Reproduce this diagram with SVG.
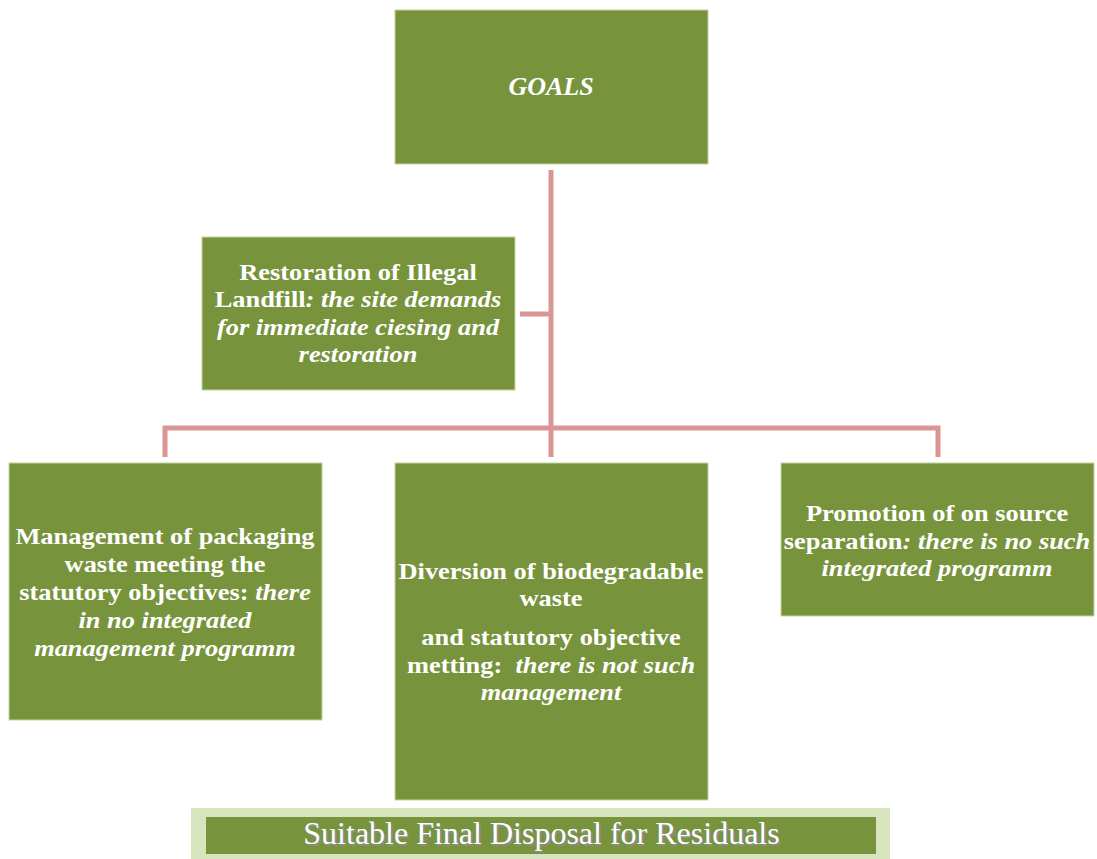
<svg xmlns="http://www.w3.org/2000/svg" width="1097" height="859" viewBox="0 0 1097 859">
<style>
.box{fill:#77933c;stroke:#c3d69b;stroke-width:1}
.t{font-family:"Liberation Serif","Times New Roman",serif;font-size:24px;font-weight:bold;fill:#ffffff;text-anchor:middle}
.i{font-style:italic}
.conn{stroke:#d99694;stroke-width:5;fill:none}
.ban{font-family:"Liberation Serif","Times New Roman",serif;font-size:32px;text-anchor:middle}
</style>
<rect width="1097" height="859" fill="#ffffff"/>
<g id="connectors">
<line class="conn" x1="551" y1="170" x2="551" y2="457"/>
<line class="conn" x1="520" y1="314" x2="551" y2="314"/>
<polyline class="conn" points="165,457 165,428 938,428 938,457"/>
</g>
<g id="goals">
<rect class="box" x="395" y="10" width="313" height="154"/>
<text class="t i" x="551" y="95" style="font-size:26px">GOALS</text>
</g>
<g id="restoration">
<rect class="box" x="202" y="237" width="313" height="153"/>
<g transform="translate(358 0) scale(1.1 1)">
<text class="t" x="0" y="280">Restoration of Illegal</text>
<text class="t" x="0" y="307">Landfill<tspan class="i">: the site demands</tspan></text>
<text class="t i" x="0" y="335">for immediate ciesing and</text>
<text class="t i" x="0" y="362">restoration</text>
</g>
</g>
<g id="packaging">
<rect class="box" x="9" y="463" width="313" height="257"/>
<g transform="translate(165 0) scale(1.1 1)">
<text class="t" x="0" y="544">Management of packaging</text>
<text class="t" x="0" y="572">waste meeting the</text>
<text class="t" x="0" y="600">statutory objectives: <tspan class="i">there</tspan></text>
<text class="t i" x="0" y="628">in no integrated</text>
<text class="t i" x="0" y="656">management programm</text>
</g>
</g>
<g id="biodegradable">
<rect class="box" x="395" y="463" width="313" height="337"/>
<g transform="translate(551 0) scale(1.1 1)">
<text class="t" x="0" y="579">Diversion of biodegradable</text>
<text class="t" x="0" y="606">waste</text>
<text class="t" x="0" y="645">and statutory objective</text>
<text class="t" x="0" y="673" xml:space="preserve">metting:  <tspan class="i">there is not such</tspan></text>
<text class="t i" x="0" y="700">management</text>
</g>
</g>
<g id="separation">
<rect class="box" x="781" y="463" width="313" height="153"/>
<g transform="translate(937 0) scale(1.1 1)">
<text class="t" x="0" y="521">Promotion of on source</text>
<text class="t" x="0" y="549">separation<tspan class="i">: there is no such</tspan></text>
<text class="t i" x="0" y="576">integrated programm</text>
</g>
</g>
<g id="banner">
<rect x="191" y="808" width="699" height="51" fill="#d7e4bd"/>
<rect x="206" y="817" width="670" height="37" fill="#77933c"/>
<text class="ban" x="543.5" y="846" fill="#8c8c8c">Suitable Final Disposal for Residuals</text>
<text class="ban" x="541.5" y="844" fill="#ffffff">Suitable Final Disposal for Residuals</text>
</g>
</svg>
